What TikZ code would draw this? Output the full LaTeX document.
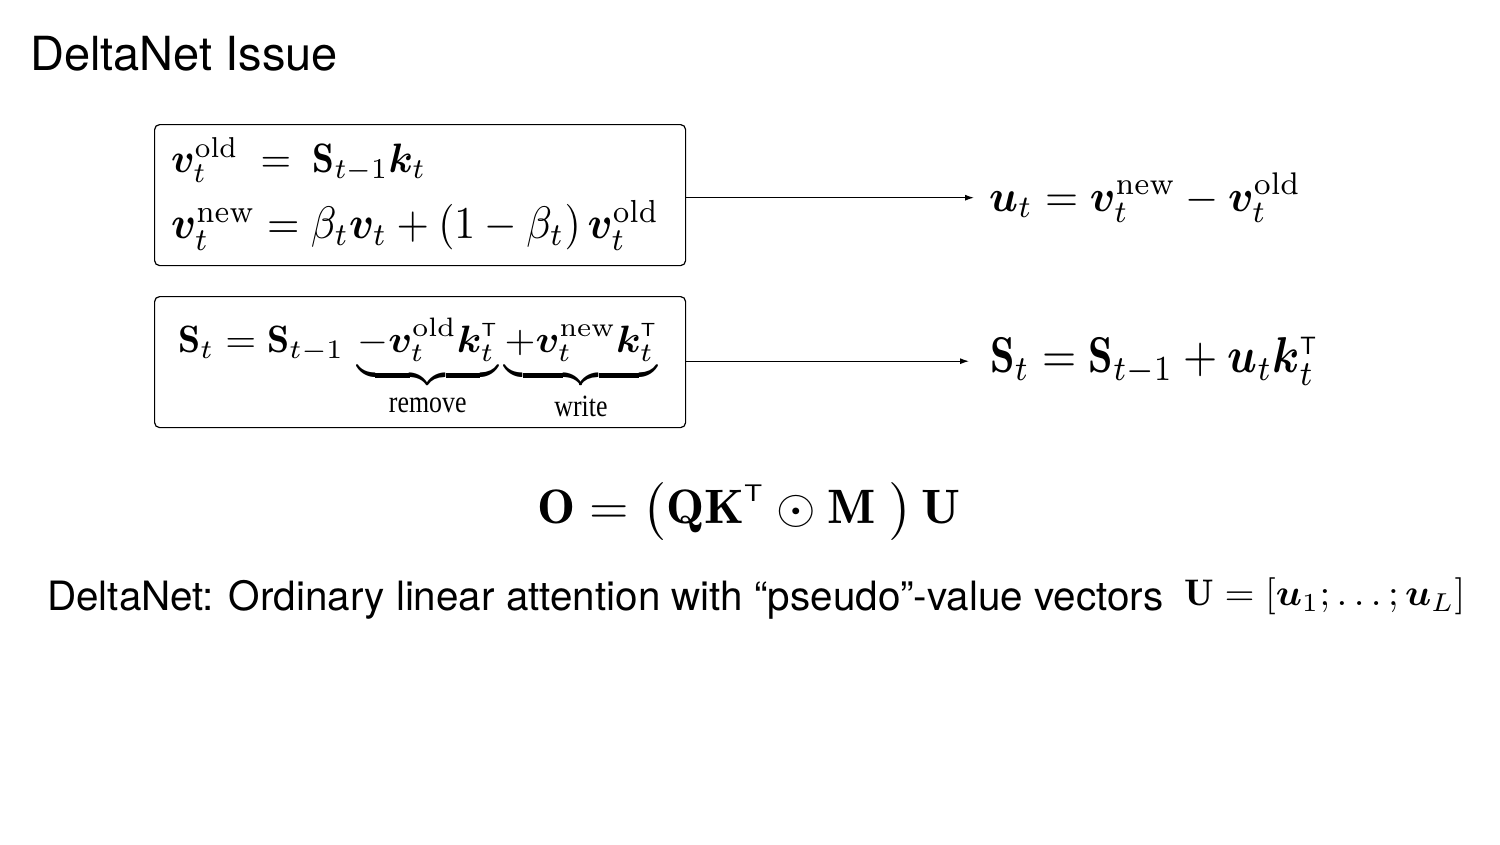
\documentclass[tikz,border=0pt]{standalone}
\usepackage{amsmath,bm,graphicx}
\usepackage{fontspec}
\newfontfamily\hel{TeX Gyre Heros}
\newfontfamily\tms{Liberation Serif}
\usetikzlibrary{arrows.meta}
\newcommand\tr{{\scriptscriptstyle\mathsf{T}}}
\newcommand\fitto[3]{\resizebox*{#1pt}{#2pt}{#3}}
\newcommand\blabel[1]{\mbox{\scalebox{1}[1.25]{\tms\fontsize{6.5}{8}\selectfont #1}}}
\begin{document}
\begin{tikzpicture}[x=1pt,y=-1pt,
  box/.style={draw, rounded corners=5pt, line width=1.2pt, minimum width=531pt, anchor=north west, inner sep=0pt},
  arr/.style={-{Latex[length=9pt,width=6pt]}, line width=1.1pt},
  eq/.style={inner sep=0pt, anchor=north west}]
\useasboundingbox (0,0) rectangle (1500,844);
\node[anchor=base west, inner sep=0pt, font=\hel\fontsize{47}{56}\selectfont] (title) at (30,70) {DeltaNet Issue};
% box 1
\node[box, minimum height=141pt] (b1) at (154,124) {};
\node[eq] (e1a) at (171,137) {\fitto{255}{45}{$\bm{v}_t^{\text{old}} \;=\; \mathbf{S}_{t-1}\bm{k}_t$}};
\node[eq] (e1b) at (171,200) {\fitto{488}{50}{$\bm{v}_t^{\text{new}} = \beta_t\bm{v}_t + (1-\beta_t)\,\bm{v}_t^{\text{old}}$}};
% box 2
\node[box, minimum height=131pt] (b2) at (154,296) {};
\node[eq] (e2) at (178,318) {\fitto{479}{102}{$\mathbf{S}_t = \mathbf{S}_{t-1}\,\underbrace{-\bm{v}_t^{\text{old}}\bm{k}_t^{\tr}}_{\blabel{remove}}\underbrace{+\bm{v}_t^{\text{new}}\bm{k}_t^{\tr}}_{\blabel{write}}$}};
% right equations
\node[eq] (r1) at (989,173) {\fitto{312}{49}{$\bm{u}_t = \bm{v}_t^{\text{new}} - \bm{v}_t^{\text{old}}$}};
\node[eq] (r2) at (990,337) {\fitto{328}{48}{$\mathbf{S}_t = \mathbf{S}_{t-1} + \bm{u}_t\bm{k}_t^{\tr}$}};
\draw[arr] (b1.east |- r1.west) -- ([xshift=-15pt]r1.west);
\draw[arr] (b2.east |- r2.west) -- ([xshift=-21pt]r2.west);
% O equation
\node[eq] (o) at (537,482) {\fitto{423}{58}{$\mathbf{O} = \bigl(\mathbf{QK}^{\tr}\odot\mathbf{M}\;\bigr)\,\mathbf{U}$}};
% bottom line
\node[anchor=base west, inner sep=0pt, font=\hel\fontsize{40.4}{48}\selectfont] (desc) at (47,610) {DeltaNet: Ordinary linear attention with “pseudo”-value vectors};
\node[eq] (ueq) at (1184,578) {\fitto{281}{37}{$\mathbf{U} = [\bm{u}_1;\ldots;\bm{u}_L]$}};
\end{tikzpicture}
\end{document}
